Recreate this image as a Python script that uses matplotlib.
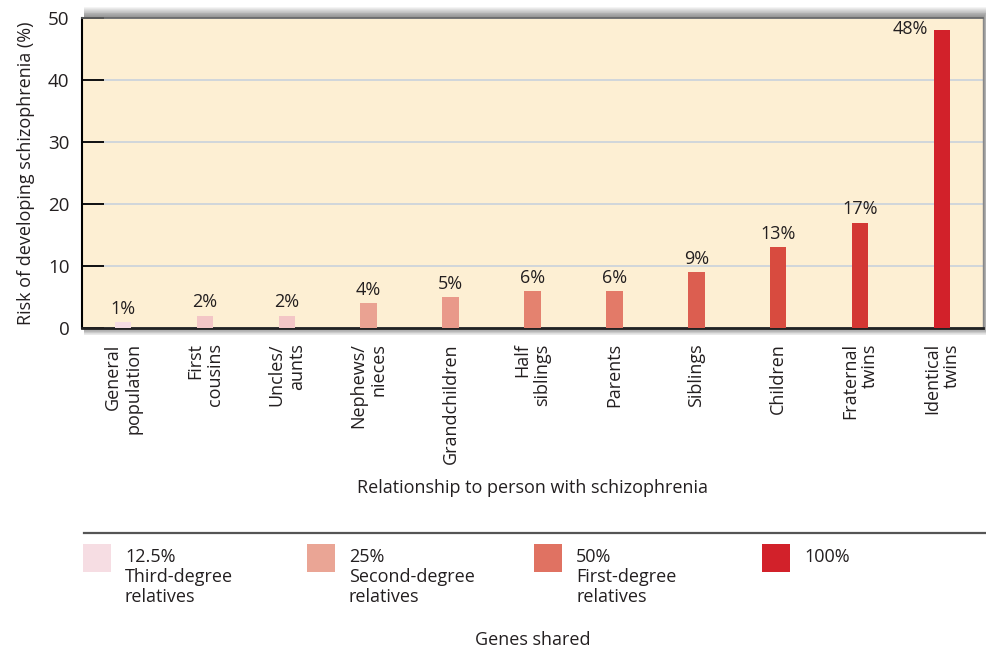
import matplotlib
matplotlib.use("Agg")
import matplotlib.pyplot as plt
from matplotlib.patches import Rectangle
from matplotlib.lines import Line2D

plt.rcParams['font.family'] = ['Open Sans', 'DejaVu Sans']

# Data
relations = ['General\npopulation', 'First\ncousins', 'Uncles/\naunts', 'Nephews/\nnieces',
             'Grandchildren', 'Half\nsiblings', 'Parents', 'Siblings', 'Children',
             'Fraternal\ntwins', 'Identical\ntwins']
risk = [1, 2, 2, 4, 5, 6, 6, 9, 13, 17, 48]
bar_colors = ['#f6dde3', '#f3c6c6', '#f3c6c6', '#eaa292', '#e9998a', '#e4826f',
              '#e37a68', '#dc5e50', '#d84b3f', '#d33733', '#d2212a']

shared = ['12.5%', '25%', '50%', '100%']
degrees = ['Third-degree\nrelatives', 'Second-degree\nrelatives', 'First-degree\nrelatives', '']
legend_colors = ['#f6dde3', '#eaa595', '#e07262', '#d2212a']

FS = 13
TXT = '#231f20'

W, H = 986, 651
fig = plt.figure(figsize=(W / 100, H / 100), dpi=100)
fig.patch.set_facecolor('white')

# axes box in pixels: left 82, right 983, top 18, bottom 328
ax = fig.add_axes([82 / W, 1 - 328 / H, 901 / W, 310 / H])
ax.set_facecolor('#fdefd3')

# soft drop shadow behind the plot box (stronger on top and right)
x0, x1 = 82 / W, 983 / W
y0, y1 = 1 - 328 / H, 1 - 18 / H
for i in range(1, 13):
    fig.patches.append(Rectangle((x0 + 2 / W, y0 - 0.6 * i / H), x1 - x0 - 2 / W + 0.6 * i / W,
                                 y1 - y0 + 1.5 * i / H,
                                 transform=fig.transFigure, facecolor='black',
                                 edgecolor='none', alpha=0.045, zorder=-1))

x = list(range(len(relations)))
ax.bar(x, risk, width=0.2, color=bar_colors, zorder=3)

for xi, v in zip(x, risk):
    if v == max(risk):
        ax.annotate(f'{v}%', (xi - 0.1, v), xytext=(-4, 1), textcoords='offset points',
                    ha='right', va='center', fontsize=FS, color=TXT)
    else:
        ax.annotate(f'{v}%', (xi, v), xytext=(0, 3), textcoords='offset points',
                    ha='center', va='bottom', fontsize=FS, color=TXT)

ax.set_xlim(-0.5, len(relations) - 0.5)
ax.set_ylim(0, 50)
ax.set_yticks([0, 10, 20, 30, 40, 50])
ax.yaxis.grid(True, color='#c9d2dc', linewidth=1.2, zorder=0)
ax.set_axisbelow(True)
ax.tick_params(axis='y', direction='in', length=16, width=1.3, color='black',
               pad=9, labelsize=13.5, labelcolor=TXT)

ax.set_xticks(x)
ax.set_xticklabels(relations, rotation=90, ha='center', va='top', multialignment='right',
                   fontsize=FS, color=TXT, linespacing=1.15)
ax.tick_params(axis='x', length=0, pad=11)

ax.spines['left'].set_color('black')
ax.spines['left'].set_linewidth(1.5)
ax.spines['bottom'].set_color('#222222')
ax.spines['bottom'].set_linewidth(2)
ax.spines['top'].set_color('#666666')
ax.spines['top'].set_linewidth(1.2)
ax.spines['right'].set_color('#888888')
ax.spines['right'].set_linewidth(1)

ax.set_ylabel('Risk of developing schizophrenia (%)', fontsize=FS, color=TXT, va='center')
ax.yaxis.set_label_coords(-0.062, 0.5)
ax.set_xlabel('Relationship to person with schizophrenia', fontsize=FS, color=TXT, va='center')
ax.xaxis.set_label_coords(0.5, (328 - 488) / 310)

# legend strip below the chart
fig.add_artist(Line2D([84 / W, 1.0], [1 - 533 / H, 1 - 533 / H], transform=fig.transFigure,
                      color='#555555', linewidth=1.6))
patch_x = [83, 307, 534, 762]
for px, share, deg, col in zip(patch_x, shared, degrees, legend_colors):
    fig.patches.append(Rectangle((px / W, 1 - 572 / H), 28 / W, 28 / H,
                                 transform=fig.transFigure, facecolor=col, edgecolor='none'))
    label = share + ('\n' + deg if deg else '')
    fig.text((px + 42) / W, 1 - 548 / H, label, ha='left', va='top', fontsize=FS,
             linespacing=1.15, color=TXT)

fig.text(533 / W, 1 - 640 / H, 'Genes shared', ha='center', va='center', fontsize=FS,
         color=TXT)

fig.savefig('out.png', dpi=100)
